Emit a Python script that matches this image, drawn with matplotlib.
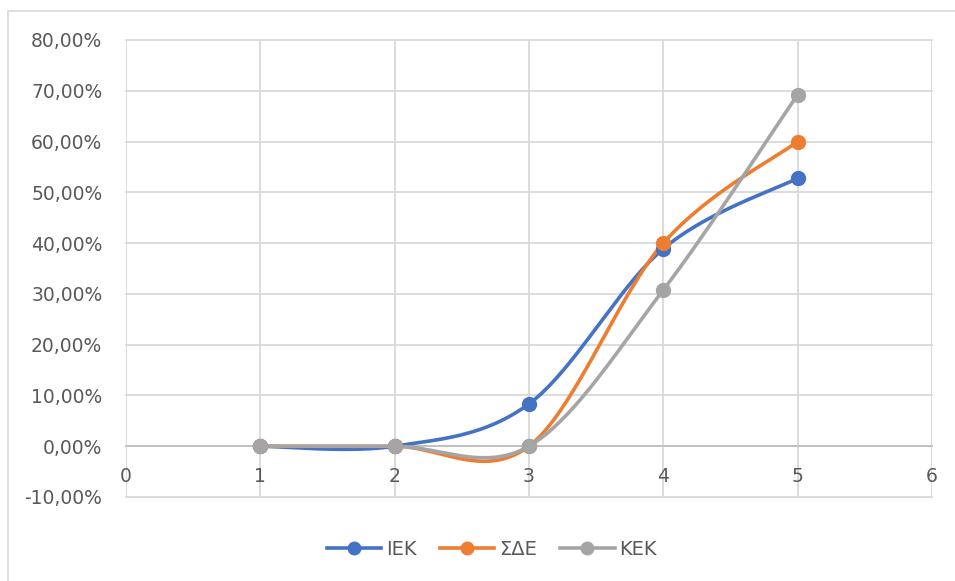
import numpy as np
import matplotlib.pyplot as plt
from matplotlib.patches import Rectangle
from matplotlib.lines import Line2D
from matplotlib.ticker import FuncFormatter

# data
x_vals = [1, 2, 3, 4, 5]
iek = [0.0, 0.0, 0.0833, 0.3889, 0.5278]
sde = [0.0, 0.0, 0.0, 0.40, 0.60]
kek = [0.0, 0.0, 0.0, 0.3077, 0.6923]
names = ['ΙΕΚ', 'ΣΔΕ', 'ΚΕΚ']
colors = ['#4472C4', '#ED7D31', '#A5A5A5']

plt.rcParams['font.family'] = ['DejaVu Sans']


def smooth(xs, ys, n=40):
    # Excel-like smoothed line: Catmull-Rom as cubic Bezier segments
    p = np.column_stack([xs, ys]).astype(float)
    p_ext = np.vstack([p[0], p, p[-1]])
    out = []
    for i in range(len(p) - 1):
        p0, p1, p2, p3 = p_ext[i], p_ext[i + 1], p_ext[i + 2], p_ext[i + 3]
        c1 = p1 + (p2 - p0) / 6
        c2 = p2 - (p3 - p1) / 6
        t = np.linspace(0, 1, n)[:, None]
        seg = ((1 - t) ** 3 * p1 + 3 * (1 - t) ** 2 * t * c1
               + 3 * (1 - t) * t ** 2 * c2 + t ** 3 * p2)
        out.append(seg if i == 0 else seg[1:])
    out = np.vstack(out)
    return out[:, 0], out[:, 1]


fig = plt.figure(figsize=(9.55, 5.81), dpi=100)
# chart area border (runs off the right and bottom edges)
fig.patches.append(Rectangle((0.0084, -0.05), 1.1, 1.031, transform=fig.transFigure,
                             fill=False, edgecolor='#d9d9d9', linewidth=1.2))
ax = fig.add_axes([0.1319, 0.1446, 0.8440, 0.7866])

for ys, c in zip([iek, sde, kek], colors):
    sx, sy = smooth(x_vals, ys)
    ax.plot(sx, sy, color=c, linewidth=2.6, solid_capstyle='round', zorder=3)
    ax.plot(x_vals, ys, 'o', color=c, markersize=10, zorder=4)

ax.set_xlim(0, 6)
ax.set_ylim(-0.10, 0.80)
ax.set_xticks(range(0, 7))
ax.set_yticks(np.arange(-0.1, 0.81, 0.1))
ax.yaxis.set_major_formatter(FuncFormatter(lambda v, p: f'{v * 100:.2f}%'.replace('.', ',')))
ax.grid(True, color='#d9d9d9', linewidth=1.3)
for gl in ax.get_xgridlines() + ax.get_ygridlines():
    gl.set_clip_on(False)
ax.set_axisbelow(True)
for s in ['top', 'right', 'left']:
    ax.spines[s].set_visible(False)
ax.spines['bottom'].set_position(('data', 0))
ax.spines['bottom'].set_color('#bfbfbf')
ax.spines['bottom'].set_linewidth(1.3)
ax.tick_params(length=0, labelsize=13.5, colors='#595959')
ax.tick_params(axis='y', pad=17)
ax.tick_params(axis='x', pad=15)

handles = [Line2D([], [], color=c, linewidth=2.6, marker='o', markersize=9) for c in colors]
fig.legend(handles, names, loc='center', bbox_to_anchor=(0.515, 0.055), ncol=3, frameon=False,
           fontsize=14, labelcolor='#595959', handlelength=2.8, columnspacing=1.2, handletextpad=0.25)

plt.savefig('out.png', dpi=100)
